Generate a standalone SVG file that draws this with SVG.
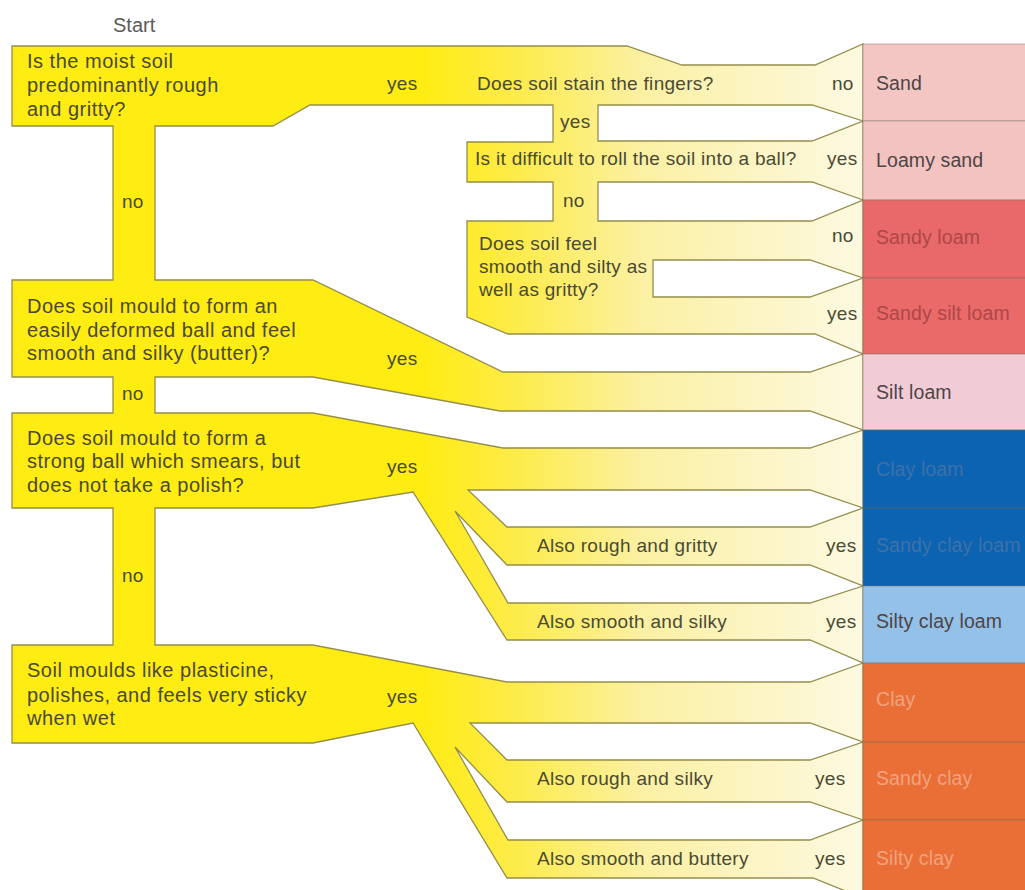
<svg xmlns="http://www.w3.org/2000/svg" width="1025" height="890" viewBox="0 0 1025 890">
<defs>
<linearGradient id="fade" gradientUnits="userSpaceOnUse" x1="420" y1="0" x2="860" y2="0">
<stop offset="0" stop-color="#ffec12"/>
<stop offset="0.2" stop-color="#fdeb45"/>
<stop offset="0.5" stop-color="#fbf0a2"/>
<stop offset="0.8" stop-color="#fcf5c8"/>
<stop offset="1" stop-color="#fdf9e0"/>
</linearGradient>
<style>
text{font-family:"Liberation Sans",Arial,Helvetica,sans-serif;fill:#4a4a34}
.q{font-size:20px;letter-spacing:0.5px}
.s{font-size:19px;letter-spacing:0.3px}
.r{font-size:19.5px;letter-spacing:0.1px;fill:#4f4545}
.st{font-size:20px;fill:#5a5a5a}
.band{fill:url(#fade);fill-rule:evenodd;stroke:#948e4c;stroke-width:1.3;stroke-linejoin:miter}
.res{stroke:#7a6560;stroke-opacity:0.45;stroke-width:1}
</style>
</defs>
<rect width="1025" height="890" fill="#ffffff"/>

<g id="connectors">
<path class="band" d="M12,46 L627,46 L682,65 L815,65 L863,44 L863,898 L813,878 L507,878 L413,723 L313,743 L12,743 L12,645 L113,645 L113,508 L12,508 L12,413 L113,413 L113,377 L12,377 L12,280 L113,280 L113,126 L12,126 Z
M155,126 L273,126 L310,105 L553,105 L553,142 L467,142 L467,182 L553,182 L553,221 L467,221 L467,317 L508,334 L815,334 L863,354 L810,372 L503,372 L313,280 L155,280 Z
M598,105 L812,105 L863,121 L812,141 L598,141 Z
M598,182 L812,182 L863,200 L812,221 L598,221 Z
M653,260 L810,260 L863,278 L810,297 L653,297 Z
M155,377 L313,377 L500,411 L810,411 L863,430 L810,448 L503,448 L313,413 L155,413 Z
M468,490 L810,490 L863,508 L810,527 L507,527 Z
M455,511 L507,565 L810,565 L863,586 L810,603 L508,603 Z
M155,508 L313,508 L413,492 L507,640 L810,640 L863,663 L810,682 L507,682 L313,645 L155,645 Z
M470,723 L810,723 L863,742 L810,760 L507,760 Z
M455,747 L507,802 L810,802 L863,820 L810,840 L508,840 Z"/>
</g>

<g id="start"><text class="st" x="113" y="32">Start</text></g>

<g id="q1">
<text class="q" x="27" y="68">Is the moist soil</text>
<text class="q" x="27" y="92">predominantly rough</text>
<text class="q" x="27" y="116">and gritty?</text>
<text class="s" x="387" y="90">yes</text>
<text class="s" x="122" y="208">no</text>
</g>

<g id="q1a">
<text class="s" x="477" y="90">Does soil stain the fingers?</text>
<text class="s" x="832" y="90">no</text>
<text class="s" x="560" y="128">yes</text>
</g>

<g id="q1b">
<text class="s" x="475" y="165">Is it difficult to roll the soil into a ball?</text>
<text class="s" x="827" y="165">yes</text>
<text class="s" x="563" y="207">no</text>
</g>

<g id="q1c">
<text class="s" x="479" y="250">Does soil feel</text>
<text class="s" x="479" y="273">smooth and silty as</text>
<text class="s" x="479" y="296">well as gritty?</text>
<text class="s" x="832" y="242">no</text>
<text class="s" x="827" y="320">yes</text>
</g>

<g id="q2">
<text class="q" x="27" y="313">Does soil mould to form an</text>
<text class="q" x="27" y="337">easily deformed ball and feel</text>
<text class="q" x="27" y="360">smooth and silky (butter)?</text>
<text class="s" x="387" y="365">yes</text>
<text class="s" x="122" y="400">no</text>
</g>

<g id="q3">
<text class="q" x="27" y="445">Does soil mould to form a</text>
<text class="q" x="27" y="468">strong ball which smears, but</text>
<text class="q" x="27" y="492">does not take a polish?</text>
<text class="s" x="387" y="473">yes</text>
<text class="s" x="122" y="582">no</text>
</g>

<g id="q3a">
<text class="s" x="537" y="552">Also rough and gritty</text>
<text class="s" x="826" y="552">yes</text>
</g>

<g id="q3b">
<text class="s" x="537" y="628">Also smooth and silky</text>
<text class="s" x="826" y="628">yes</text>
</g>

<g id="q4">
<text class="q" x="27" y="677">Soil moulds like plasticine,</text>
<text class="q" x="27" y="702">polishes, and feels very sticky</text>
<text class="q" x="27" y="725">when wet</text>
<text class="s" x="387" y="703">yes</text>
</g>

<g id="q4a">
<text class="s" x="537" y="785">Also rough and silky</text>
<text class="s" x="815" y="785">yes</text>
</g>

<g id="q4b">
<text class="s" x="537" y="865">Also smooth and buttery</text>
<text class="s" x="815" y="865">yes</text>
</g>

<g id="r-sand"><rect class="res" x="863" y="44" width="170" height="77" fill="#f4c6c3"/><text class="r" x="876" y="90">Sand</text></g>
<g id="r-loamy-sand"><rect class="res" x="863" y="121" width="170" height="79" fill="#f2c3c1"/><text class="r" x="876" y="167">Loamy sand</text></g>
<g id="r-sandy-loam"><rect class="res" x="863" y="200" width="170" height="78" fill="#e9696a"/><text class="r" x="876" y="244" style="fill:#ad4747">Sandy loam</text></g>
<g id="r-sandy-silt-loam"><rect class="res" x="863" y="278" width="170" height="76" fill="#e96a69"/><text class="r" x="876" y="320" style="fill:#ad4747">Sandy silt loam</text></g>
<g id="r-silt-loam"><rect class="res" x="863" y="354" width="170" height="76" fill="#f1ccd6"/><text class="r" x="876" y="399">Silt loam</text></g>
<g id="r-clay-loam"><rect class="res" x="863" y="430" width="170" height="78" fill="#0b63b1"/><text class="r" x="876" y="476" style="fill:#3f71a8">Clay loam</text></g>
<g id="r-sandy-clay-loam"><rect class="res" x="863" y="508" width="170" height="78" fill="#0b63b1"/><text class="r" x="876" y="552" style="fill:#3f71a8">Sandy clay loam</text></g>
<g id="r-silty-clay-loam"><rect class="res" x="863" y="586" width="170" height="77" fill="#93c1e8"/><text class="r" x="876" y="628">Silty clay loam</text></g>
<g id="r-clay"><rect class="res" x="863" y="663" width="170" height="79" fill="#e96f36"/><text class="r" x="876" y="706" style="fill:#f1a27e">Clay</text></g>
<g id="r-sandy-clay"><rect class="res" x="863" y="742" width="170" height="78" fill="#e96f36"/><text class="r" x="876" y="785" style="fill:#f1a27e">Sandy clay</text></g>
<g id="r-silty-clay"><rect class="res" x="863" y="820" width="170" height="78" fill="#e96f36"/><text class="r" x="876" y="865" style="fill:#f1a27e">Silty clay</text></g>
</svg>
